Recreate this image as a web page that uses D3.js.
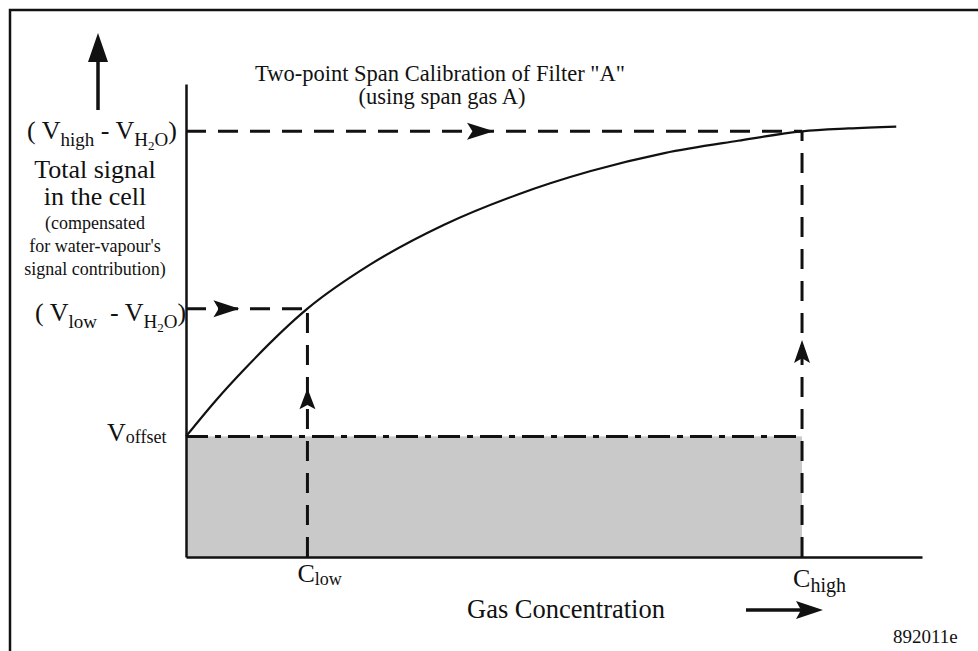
<!DOCTYPE html>
<html>
<head>
<meta charset="utf-8">
<script src="https://cdn.jsdelivr.net/npm/d3@7"></script>
<style>
  html, body { margin: 0; padding: 0; background: #fff; }
  svg { display: block; }
  svg text { font-family: "Liberation Serif", "DejaVu Serif", serif; fill: #111; }
</style>
</head>
<body>
<svg id="chart" width="978" height="651" font-family="Liberation Serif, DejaVu Serif, serif"></svg>
<script>
// Response curve of the cell signal versus gas concentration (arbitrary units, 0–100)
const concentration = [0, 4, 8, 16.5, 25, 35, 45, 55, 65, 75, 83.7, 90, 96.5];
const signal        = [25.5, 33.0, 39.8, 52.5, 61.8, 70.2, 76.6, 81.6, 85.4, 88.0, 90.0, 90.6, 91.0];

// Calibration points (low / high span) and the offset level
const calibNames   = ["low", "high"];
const calibConc    = [16.5, 83.7];
const calibSignal  = [52.5, 90.0];
const offsetSignal = 25.5;

// Where each direction arrow sits along its guide line (fraction of the guide's length)
const guideArrowAt = { hLow: 0.44, hHigh: 0.5, vLow: 0.68, vHigh: 0.51 };

// Text
const titleLines = ["Two-point Span Calibration of Filter \"A\"", "(using span gas A)"];
const yTitleLines = [
  { text: "Total signal", size: 26 },
  { text: "in the cell", size: 26 },
  { text: "(compensated", size: 18 },
  { text: "for water-vapour's", size: 18 },
  { text: "signal contribution)", size: 18 }
];
const xTitle = "Gas Concentration";
const figureId = "892011e";

const svg = d3.select("#chart");
const serif = "'Liberation Serif', 'DejaVu Serif', serif";
const x = d3.scaleLinear().domain([0, 100]).range([186, 922]);
const y = d3.scaleLinear().domain([0, 100]).range([557, 84]);

const ink = "#111";

// outer frame (runs past the right and bottom edges)
svg.append("rect").attr("x", 10).attr("y", 10).attr("width", 1100).attr("height", 800)
  .attr("fill", "none").attr("stroke", ink).attr("stroke-width", 2.5);

// shaded offset region
svg.append("rect")
  .attr("x", x(0)).attr("y", y(offsetSignal))
  .attr("width", x(calibConc[1]) - x(0)).attr("height", y(0) - y(offsetSignal))
  .attr("fill", "#c9c9c9");

// offset level (dash-dot)
svg.append("line")
  .attr("x1", x(0)).attr("x2", x(calibConc[1]))
  .attr("y1", y(offsetSignal)).attr("y2", y(offsetSignal))
  .attr("stroke", ink).attr("stroke-width", 3)
  .attr("stroke-dasharray", "22,7,6,7");

// dashed guides: horizontal from the signal axis, vertical from the concentration axis
const dash = "20,12";
calibConc.forEach((c, i) => {
  svg.append("line")
    .attr("x1", x(0)).attr("x2", x(c))
    .attr("y1", y(calibSignal[i])).attr("y2", y(calibSignal[i]))
    .attr("stroke", ink).attr("stroke-width", 3).attr("stroke-dasharray", dash);
  svg.append("line")
    .attr("x1", x(c)).attr("x2", x(c))
    .attr("y1", y(0)).attr("y2", y(calibSignal[i]))
    .attr("stroke", ink).attr("stroke-width", 3).attr("stroke-dasharray", dash);
});

// response curve
const pts = concentration.map((c, i) => [c, signal[i]]);
svg.append("path")
  .datum(pts)
  .attr("fill", "none").attr("stroke", ink).attr("stroke-width", 2.2)
  .attr("d", d3.line().x(d => x(d[0])).y(d => y(d[1])).curve(d3.curveMonotoneX));

// axes (plain lines, no ticks)
svg.append("g").attr("transform", `translate(0,${y(0)})`)
  .call(d3.axisBottom(x).tickValues([]).tickSizeOuter(0))
  .call(g => g.select(".domain").attr("stroke", ink).attr("stroke-width", 2.5));
svg.append("g").attr("transform", `translate(${x(0)},0)`)
  .call(d3.axisLeft(y).tickValues([]).tickSizeOuter(0))
  .call(g => g.select(".domain").attr("stroke", ink).attr("stroke-width", 2.5));

// arrowheads on the guides
function arrowHead(tx, ty, angleDeg, len, wid) {
  const p = `M0,0 L${-len},${-wid / 2} L${-len * 0.8},0 L${-len},${wid / 2} Z`;
  svg.append("path").attr("d", p).attr("fill", ink)
    .attr("transform", `translate(${tx},${ty}) rotate(${angleDeg})`);
}
arrowHead(x(0) + (x(calibConc[0]) - x(0)) * guideArrowAt.hLow, y(calibSignal[0]), 0, 26, 17);
arrowHead(x(0) + (x(calibConc[1]) - x(0)) * guideArrowAt.hHigh, y(calibSignal[1]), 0, 27, 17);
arrowHead(x(calibConc[0]), y(0) + (y(calibSignal[0]) - y(0)) * guideArrowAt.vLow, -90, 21, 16);
arrowHead(x(calibConc[1]), y(0) + (y(calibSignal[1]) - y(0)) * guideArrowAt.vHigh, -90, 23, 16);

// direction arrows for the axis titles
svg.append("line").attr("x1", 98).attr("x2", 98).attr("y1", 110).attr("y2", 58)
  .attr("stroke", ink).attr("stroke-width", 3.5);
svg.append("path").attr("d", "M98,33 L108,62 L88,62 Z").attr("fill", ink);
svg.append("line").attr("x1", 746).attr("x2", 802).attr("y1", 610).attr("y2", 610)
  .attr("stroke", ink).attr("stroke-width", 3.5);
svg.append("path").attr("d", "M823,610 L796,601 L801,610 L796,619 Z").attr("fill", ink);

// helper for text built from segments with sub/superscript offsets
function richText(xPos, yPos, segs, baseSize, anchor) {
  const t = svg.append("text").attr("x", xPos).attr("y", yPos)
    .attr("font-family", serif)
    .attr("font-size", baseSize).attr("text-anchor", anchor || "start")
    .attr("xml:space", "preserve");
  segs.forEach(s => {
    t.append("tspan").attr("font-size", s.size || baseSize).attr("dy", s.dy || 0).text(s.t);
  });
  return t;
}
function plainText(xPos, yPos, str, size, anchor) {
  return svg.append("text").attr("x", xPos).attr("y", yPos)
    .attr("font-family", serif).attr("font-size", size)
    .attr("text-anchor", anchor || "start").text(str);
}

// title
plainText(440, 81, titleLines[0], 22.5, "middle");
plainText(442, 104, titleLines[1], 22.5, "middle");

// signal-axis labels
richText(27, y(calibSignal[1]) + 8, [
  { t: "( V" }, { t: "high", size: 19, dy: 7 }, { t: " - V", dy: -7 },
  { t: "H", size: 19, dy: 7 }, { t: "2", size: 13, dy: 4 }, { t: "O", size: 19, dy: -4 },
  { t: ")", dy: -7 }
], 26);
richText(35, y(calibSignal[0]) + 12, [
  { t: "( V" }, { t: "low", size: 19, dy: 7 }, { t: "  - V", dy: -7 },
  { t: "H", size: 19, dy: 7 }, { t: "2", size: 13, dy: 4 }, { t: "O", size: 19, dy: -4 },
  { t: ")", dy: -7 }
], 26);
richText(107, y(offsetSignal) + 5, [
  { t: "V" }, { t: "offset", size: 18, dy: 2 }
], 26);

const yTitleBaselines = [178, 205, 229, 252, 275];
yTitleLines.forEach((l, i) => plainText(95, yTitleBaselines[i], l.text, l.size, "middle"));

// concentration-axis labels
richText(x(calibConc[0]) - 10, 582, [{ t: "C" }, { t: calibNames[0], size: 18, dy: 3 }], 26);
richText(x(calibConc[1]) - 9, 587, [{ t: "C" }, { t: calibNames[1], size: 20, dy: 5 }], 26);

plainText(467, 618, xTitle, 26.5);
plainText(893, 643, figureId, 19);
</script>
</body>
</html>
